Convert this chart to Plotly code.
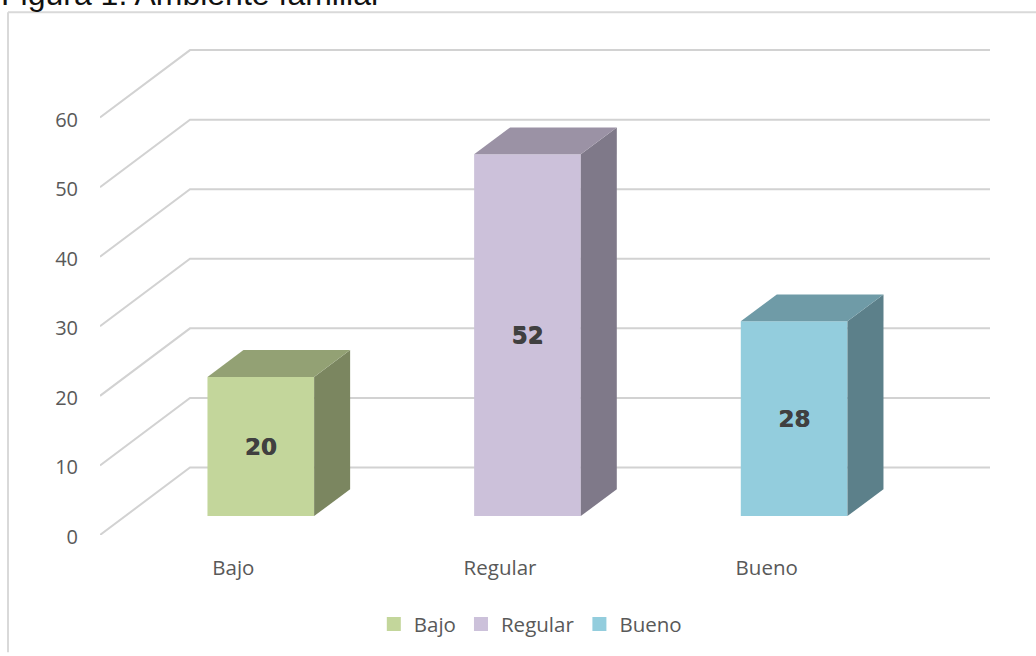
import plotly.graph_objects as go

categories = ["Bajo", "Regular", "Bueno"]
values = [20, 52, 28]
front_colors = ["#C3D69B", "#CCC1DA", "#93CDDD"]
top_colors = ["#93A174", "#9B92A5", "#6F9BA7"]
side_colors = ["#7B8660", "#7F7989", "#5C808A"]
y_ticks = [0, 10, 20, 30, 40, 50, 60]

# oblique projection, in axis units
DX, DY = 0.3375, 9.7        # full depth of the floor
BAR_W = 0.4
F_DX, F_DY = 0.103, 2.72    # wall-to-bar-front offset
B_DX, B_DY = 0.135, 3.86    # bar depth

GRID = "#D2D2D2"
fig = go.Figure()

# walls (below every trace)
for t in y_ticks:
    fig.add_shape(type="path", xref="x", yref="y", layer="below",
                  path=f"M {-0.5} {t} L {-0.5 + DX} {t + DY} L {2.5 + DX} {t + DY}",
                  line=dict(color=GRID, width=2))

# bars
for i, (c, v) in enumerate(zip(categories, values)):
    x0 = i + F_DX - BAR_W / 2
    x1 = x0 + BAR_W
    y0 = F_DY
    y1 = F_DY + v
    fig.add_trace(go.Scatter(x=[x1, x1 + B_DX, x1 + B_DX, x1, x1], y=[y0, y0 + B_DY, y1 + B_DY, y1, y0],
                             mode="lines", fill="toself", fillcolor=side_colors[i],
                             line=dict(width=0, color=side_colors[i]), hoverinfo="skip", showlegend=False))
    fig.add_trace(go.Scatter(x=[x0, x0 + B_DX, x1 + B_DX, x1, x0], y=[y1, y1 + B_DY, y1 + B_DY, y1, y1],
                             mode="lines", fill="toself", fillcolor=top_colors[i],
                             line=dict(width=0, color=top_colors[i]), hoverinfo="skip", showlegend=False))
    fig.add_trace(go.Bar(x=[i + F_DX], y=[v], base=[y0], width=[BAR_W],
                         marker=dict(color=front_colors[i], line=dict(width=0)),
                         text=[str(v)], textposition="inside", insidetextanchor="middle", textangle=0,
                         textfont=dict(family="DejaVu Sans", size=23, color="#404040", weight="bold",
                                       shadow="0.5px 0.5px 0 #404040"),
                         showlegend=False, name=c))

# legend
for c, col in zip(categories, front_colors):
    fig.add_trace(go.Scatter(x=[None], y=[None], mode="markers", name=c,
                             marker=dict(symbol="square", size=14, color=col)))

fig.add_annotation(text="Figura 1. Ambiente familiar", xref="paper", yref="paper", x=0, y=1,
                   xshift=-101, yshift=34, xanchor="left", yanchor="bottom", showarrow=False,
                   font=dict(family="Liberation Sans", size=32, color="#111111"))

fig.add_shape(type="line", xref="paper", yref="paper", x0=-92 / 890, x1=936 / 890, y0=1 + 36 / 490, y1=1 + 36 / 490,
              line=dict(color="#D9D9D9", width=2))
fig.add_shape(type="line", xref="paper", yref="paper", x0=-92 / 890, x1=-92 / 890, y0=1 + 36 / 490, y1=-118 / 490,
              line=dict(color="#D9D9D9", width=2))

fig.update_layout(
    width=1036, height=656,
    margin=dict(l=100, r=46, t=48, b=118),
    paper_bgcolor="white", plot_bgcolor="white",
    xaxis=dict(range=[-0.5, 2.8375], tickmode="array", tickvals=[0, 1, 2], ticktext=categories,
               showgrid=False, zeroline=False, showline=False, ticks="", ticklabelstandoff=18,
               tickfont=dict(family="Open Sans", size=20.5, color="#595959")),
    yaxis=dict(range=[0, 70], tickmode="array", tickvals=y_ticks, showgrid=False, zeroline=False,
               showline=False, ticks="", ticklabelstandoff=21, ticklabelshift=2,
               tickfont=dict(family="Open Sans", size=20, color="#595959")),
    legend=dict(orientation="h", x=0.4835, xref="paper", xanchor="center", y=-0.183, yanchor="middle",
                font=dict(family="Open Sans", size=20.5, color="#595959")),
    barmode="overlay",
    showlegend=True,
)
fig.write_html("out.html", config={"displayModeBar": False},
               post_script="document.body.style.margin='0';document.documentElement.style.overflow='hidden';")
